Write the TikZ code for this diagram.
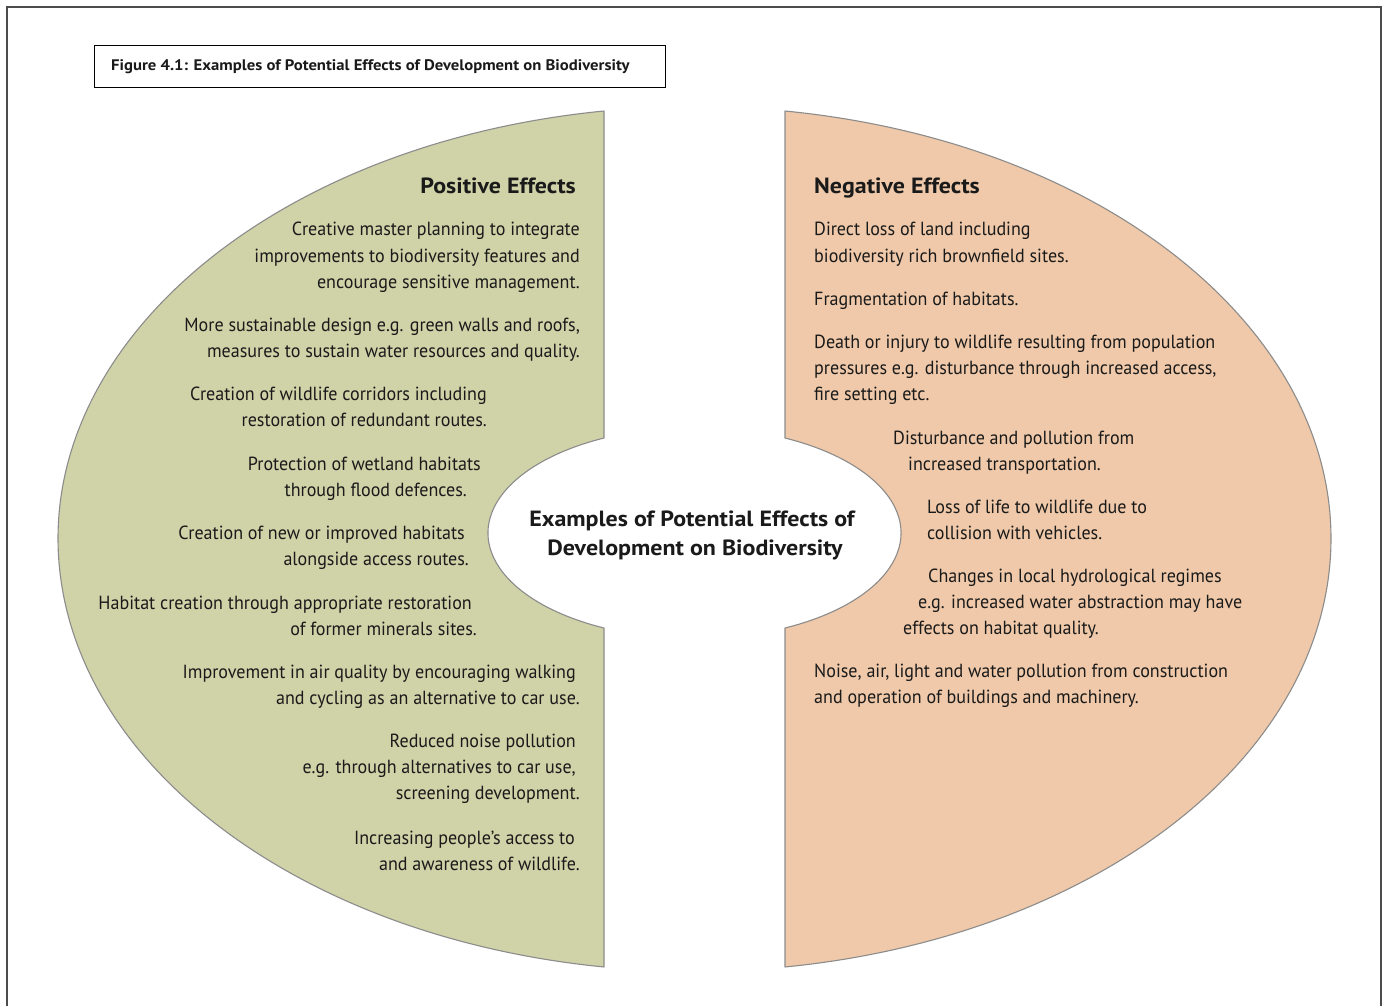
\documentclass[tikz,border=0pt]{standalone}
\usepackage{fontspec}
\setmainfont{PT Sans}[FakeStretch=0.95]
\newfontfamily\headfont{PT Sans}[FakeStretch=1.09]
\definecolor{posgreen}{HTML}{D0D2A8}
\definecolor{negpeach}{HTML}{EFC9A9}
\definecolor{edgegray}{HTML}{8C8C8C}
\definecolor{ink}{HTML}{1A1A1A}
\begin{document}
\begin{tikzpicture}[x=1pt,y=1pt,
  txt/.style={font=\fontsize{19}{19}\selectfont, text=ink, inner sep=0pt},
  lft/.style={txt, anchor=base east},
  rgt/.style={txt, anchor=base west},
  head/.style={font=\headfont\fontsize{22}{22}\selectfont\bfseries, text=ink, inner sep=0pt},
  half/.style={draw=edgegray, line width=1.1pt, line join=round}]
\useasboundingbox (0,0) rectangle (1386,-1005);
\fill[white] (0,0) rectangle (1386,-1005);
% outer frame
\draw[line width=2pt, draw=black!70] (7,-1006) -- (7,-7) -- (1381,-7) -- (1381,-1006);
% title box
\node[draw=black, line width=1pt, minimum width=571, minimum height=42, anchor=north west, inner sep=0pt] (titlebox) at (94,-45) {};
\node[font=\headfont\fontsize{15.3}{15.3}\selectfont\bfseries, text=ink, anchor=base west, inner sep=0pt] (title) at (111,-70) {Figure 4.1: Examples of Potential Effects of Development on Biodiversity};
% left half
\path[half, fill=posgreen] (604,-111) arc[start angle=98.18, end angle=261.82, x radius=636.5, y radius=432.4]
  -- (604,-628) arc[start angle=244.1, end angle=115.9, x radius=206, y radius=105.6] -- cycle;
% right half
\path[half, fill=negpeach] (785,-111) arc[start angle=81.82, end angle=-81.82, x radius=636.5, y radius=432.4]
  -- (785,-628) arc[start angle=-64.1, end angle=64.1, x radius=206, y radius=105.6] -- cycle;
% centre
\node[head, align=center, anchor=base] (c1) at (692,-526) {Examples of Potential Effects of};
\node[head, align=center, anchor=base] (c2) at (695,-555) {Development on Biodiversity};
% positive
\node[head, anchor=base east] (ph) at (576,-193) {Positive Effects};
\node[lft] (p1) at (580,-235) {Creative master planning to integrate};
\node[lft] (p2) at (580,-262) {improvements to biodiversity features and};
\node[lft] (p3) at (580,-288) {encourage sensitive management.};
\node[lft] (p4) at (580,-331) {More sustainable design e.g. green walls and roofs,};
\node[lft] (p5) at (580,-357) {measures to sustain water resources and quality.};
\node[lft] (p6) at (487,-400) {Creation of wildlife corridors including};
\node[lft] (p7) at (487,-426) {restoration of redundant routes.};
\node[lft] (p8) at (481,-470) {Protection of wetland habitats};
\node[lft] (p9) at (467,-496) {through flood defences.};
\node[lft] (p10) at (465,-539) {Creation of new or improved habitats};
\node[lft] (p11) at (469,-565) {alongside access routes.};
\node[lft] (p12) at (472,-609) {Habitat creation through appropriate restoration};
\node[lft] (p13) at (477,-635) {of former minerals sites.};
\node[lft] (p14) at (576,-678) {Improvement in air quality by encouraging walking};
\node[lft] (p15) at (580,-704) {and cycling as an alternative to car use.};
\node[lft] (p16) at (576,-747) {Reduced noise pollution};
\node[lft] (p17) at (576,-773) {e.g. through alternatives to car use,};
\node[lft] (p18) at (580,-799) {screening development.};
\node[lft] (p19) at (575,-844) {Increasing people’s access to};
\node[lft] (p20) at (580,-870) {and awareness of wildlife.};
% negative
\node[head, anchor=base west] (nh) at (814,-193) {Negative Effects};
\node[rgt] (n1) at (814,-235) {Direct loss of land including};
\node[rgt] (n2) at (814,-262) {biodiversity rich brownfield sites.};
\node[rgt] (n3) at (814,-305) {Fragmentation of habitats.};
\node[rgt] (n4) at (814,-348) {Death or injury to wildlife resulting from population};
\node[rgt] (n5) at (814,-374) {pressures e.g. disturbance through increased access,};
\node[rgt] (n6) at (814,-400) {fire setting etc.};
\node[rgt] (n7) at (893,-444) {Disturbance and pollution from};
\node[rgt] (n8) at (908,-470) {increased transportation.};
\node[rgt] (n9) at (927,-513) {Loss of life to wildlife due to};
\node[rgt] (n10) at (927,-539) {collision with vehicles.};
\node[rgt] (n11) at (928,-582) {Changes in local hydrological regimes};
\node[rgt] (n12) at (918,-608) {e.g. increased water abstraction may have};
\node[rgt] (n13) at (903,-634) {effects on habitat quality.};
\node[rgt] (n14) at (814,-677) {Noise, air, light and water pollution from construction};
\node[rgt] (n15) at (814,-703) {and operation of buildings and machinery.};
\end{tikzpicture}
\end{document}
